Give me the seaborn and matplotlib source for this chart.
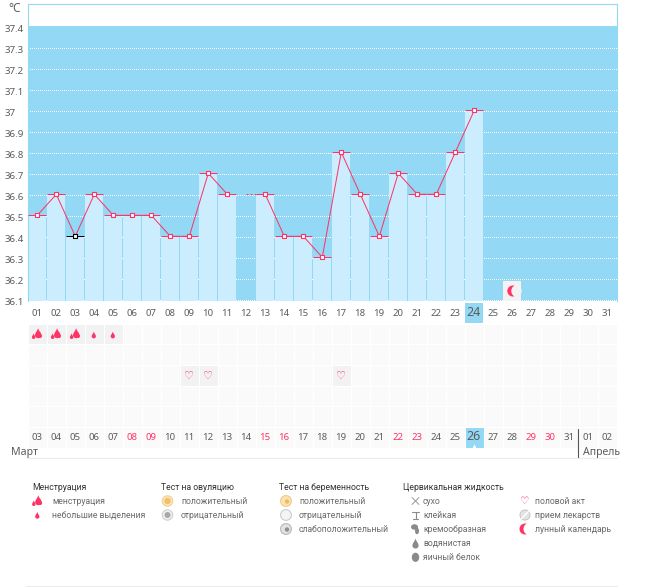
import numpy as np
import pandas as pd
import matplotlib
matplotlib.use("Agg")
import matplotlib.pyplot as plt
from matplotlib.colors import ListedColormap
from matplotlib.patches import Rectangle, Circle, PathPatch, Ellipse
from matplotlib.path import Path
import seaborn as sns

days = [f"{d:02d}" for d in range(1, 32)]
temps = [36.5, 36.6, 36.4, 36.6, 36.5, 36.5, 36.5, 36.4, 36.4, 36.7, 36.6, np.nan,
         36.6, 36.4, 36.4, 36.3, 36.8, 36.6, 36.4, 36.7, 36.6, 36.6, 36.8, 37.0] + [np.nan] * 7
y_ticks = [37.4, 37.3, 37.2, 37.1, 37.0, 36.9, 36.8, 36.7, 36.6, 36.5, 36.4, 36.3, 36.2, 36.1]
y_labels = ["37.4", "37.3", "37.2", "37.1", "37", "36.9", "36.8", "36.7", "36.6", "36.5", "36.4", "36.3", "36.2", "36.1"]
dates = ["03", "04", "05", "06", "07", "08", "09", "10", "11", "12", "13", "14", "15", "16", "17", "18",
         "19", "20", "21", "22", "23", "24", "25", "26", "27", "28", "29", "30", "31", "01", "02"]
weekend_dates = ["08", "09", "15", "16", "22", "23", "29", "30"]
heavy_days = ["01", "02", "03"]
light_days = ["04", "05"]
intercourse_days = ["09", "10", "17"]
today = "24"
black_day = "03"
moon_day = "26"

BLUE = "#93d8f4"
BAR = "#ccedfd"
PINK = "#ff3366"
GREY = "#5c5c5c"
FONT = ["Noto Sans", "DejaVu Sans"]
FS = 6.9
LEG_FONT = ["Roboto", "DejaVu Sans"]
LFS = 6.2

sns.set_theme(style="white")
plt.rcParams["font.family"] = FONT

W, H = 655, 587
L, R = 27.8, 616.8
fig = plt.figure(figsize=(W / 100, H / 100), dpi=100, facecolor="#fefffe")


def axes_px(x0, y0, x1, y1, **kw):
    return fig.add_axes([x0 / W, 1 - y1 / H, (x1 - x0) / W, (y1 - y0) / H], **kw)


def cx(i):
    return L + 19 * (i + 0.5)


df = pd.DataFrame({"day": days, "temp": temps, "pos": range(len(days))})
df["segment"] = df["temp"].isna().cumsum()

# --- main chart
ax = axes_px(L, 3.5, R, 301)
PXV = 210.0
ax.axhspan(36.0, 37.4, color=BLUE, lw=0, zorder=0)
for t in y_ticks[1:]:
    ax.plot([-0.5, 30.5], [t - 1 / PXV, t - 1 / PXV], color="white", lw=0.72, zorder=1,
            dashes=(1.0, 2.0), dash_capstyle="butt", antialiased=False)
sns.barplot(data=df, x="day", y="temp", color=BAR, saturation=1, width=18 / 19, ax=ax, zorder=2,
            order=days, linewidth=0, edgecolor="none")
sns.lineplot(data=df.dropna(subset=["temp"]), x="pos", y="temp", units="segment", estimator=None,
             color=PINK, lw=0.72, ax=ax, zorder=3)
for p, t, d in zip(df["pos"], df["temp"], df["day"]):
    if np.isfinite(t):
        ax.hlines(t, p - 9 / 19, p + 9 / 19, colors="black" if d == black_day else PINK, lw=0.72, zorder=4)
    elif d == "12":
        ax.hlines(temps[p - 1], p, p + 0.5, colors=PINK, lw=0.72, linestyles=(0, (2, 2)), zorder=4)
known = df.dropna(subset=["temp"])
sns.scatterplot(data=known[known["day"] != black_day], x="pos", y="temp", marker="s", s=9, color="white",
                edgecolor=PINK, linewidth=0.8, ax=ax, zorder=5)
sns.scatterplot(data=known[known["day"] == black_day], x="pos", y="temp", marker="s", s=9, color="white",
                edgecolor="black", linewidth=0.8, ax=ax, zorder=5)
ax.set_xlim(-0.5, 30.5)
ax.set_ylim(36.5 - 85.7 / PXV, 36.5 + 211.8 / PXV)
ax.set_xlabel("")
ax.set_ylabel("")
ax.set_xticks([])
ax.set_yticks([])
ax.set_facecolor("#fefffe")
for s in ["left", "right", "top"]:
    ax.spines[s].set_color(BLUE)
    ax.spines[s].set_linewidth(0.8)
ax.spines["bottom"].set_visible(False)

# --- symptom grid
matrix = np.zeros((6, 31))
for i, d in enumerate(days):
    if d in heavy_days or d in light_days:
        matrix[0, i] = 1
    if d in intercourse_days:
        matrix[2, i] = 1
matrix[5, dates.index("26")] = 2
ax2 = axes_px(L, 323.5, R, 447.5)
sns.heatmap(matrix, ax=ax2, cbar=False, xticklabels=False, yticklabels=False, vmin=0, vmax=2,
            cmap=ListedColormap(["#fbfafb", "#f2f2f2", BLUE]), linewidths=0.72, linecolor="#fefffe")

# --- overlay in pixels
ov = fig.add_axes([0, 0, 1, 1], zorder=10)
ov.set_xlim(0, W)
ov.set_ylim(H, 0)
ov.axis("off")


def txt(x, y, s, color=GREY, size=FS, ha="left", **kw):
    ov.text(x, y, s, color=color, fontsize=size, ha=ha, va="center", **kw)


DROP = Path([(0, -1), (0.15, -0.45), (0.62, -0.05), (0.62, 0.42), (0.62, 0.8), (0.3, 1), (0, 1),
             (-0.3, 1), (-0.62, 0.8), (-0.62, 0.42), (-0.62, -0.05), (-0.15, -0.45), (0, -1)],
            [Path.MOVETO] + [Path.CURVE4] * 12)


def drop(x, y, s, color=PINK):
    tr = matplotlib.transforms.Affine2D().scale(s).translate(x, y) + ov.transData
    ov.add_patch(PathPatch(DROP, transform=tr, fc=color, ec="none"))


def heavy(x, y):
    drop(x + 1.3, y - 0.8, 5.0)
    drop(x + 3.2, y + 0.8, 3.2)
    drop(x - 3.2, y + 2.2, 2.8)


def light(x, y):
    drop(x, y, 3.4)


def heart(x, y, size=8.0, color=PINK):
    ov.text(x, y, "\u2661", color=color, fontsize=size, ha="center", va="center", family="DejaVu Sans")


def moon(x, y, r=6, bg="#ffffff"):
    ov.add_patch(Circle((x, y), r, fc=PINK, ec="none"))
    ov.add_patch(Ellipse((x + 0.42 * r * 1.6, y), 2 * r * 0.95, 2 * r * 1.05, fc=bg, ec="none"))


# axis texts
txt(15, 8, "\u00b0C", size=8.5, ha="center")
for t, lab in zip(y_ticks, y_labels):
    txt(4.5, 300.3 - (t - 36.1) * PXV + 1.8, lab, size=7.0)
for i, d in enumerate(days):
    if d == today:
        ov.add_patch(Rectangle((cx(i) - 9, 303), 18, 20, fc=BLUE, ec="none"))
        txt(cx(i) - 1, 313, d, size=9, ha="center")
    else:
        txt(cx(i) - 0.5, 313, d, ha="center")
for i, d in enumerate(dates):
    color = PINK if d in weekend_dates else GREY
    if d == "26":
        txt(cx(i) - 1, 436, d, size=9, ha="center")
        ov.plot([cx(i)], [445.5], marker="^", ms=3, color="white", mew=0)
    else:
        txt(cx(i) - 0.5, 437.3, d, color=color, ha="center")
txt(11, 453, "\u041c\u0430\u0440\u0442", size=7.6)
txt(583, 453, "\u0410\u043f\u0440\u0435\u043b\u044c", size=7.6)
ov.plot([578.3, 578.3], [429, 458], color="#555555", lw=0.8)
ov.plot([27, 617], [458.3, 458.3], color="#ececec", lw=0.8)
ov.plot([26, 617], [586, 586], color="#ececec", lw=0.8)

# symptom marks
for d in heavy_days:
    heavy(cx(days.index(d)) - 0.5, 334)
for d in light_days:
    light(cx(days.index(d)) - 0.5, 335)
for d in intercourse_days:
    heart(cx(days.index(d)) - 0.3, 375.3)
i = days.index(moon_day)
ov.add_patch(Rectangle((cx(i) - 9, 281), 18, 20, fc="#f3f3f3", ec="none", zorder=1))
moon(cx(i) + 0.5, 291, 5.5, "#f3f3f3")

# legend
for x, s in [(32, "\u041c\u0435\u043d\u0441\u0442\u0440\u0443\u0430\u0446\u0438\u044f"),
             (161, "\u0422\u0435\u0441\u0442 \u043d\u0430 \u043e\u0432\u0443\u043b\u044f\u0446\u0438\u044e"),
             (279, "\u0422\u0435\u0441\u0442 \u043d\u0430 \u0431\u0435\u0440\u0435\u043c\u0435\u043d\u043d\u043e\u0441\u0442\u044c"),
             (403, "\u0426\u0435\u0440\u0432\u0438\u043a\u0430\u043b\u044c\u043d\u0430\u044f \u0436\u0438\u0434\u043a\u043e\u0441\u0442\u044c")]:
    txt(x, 487, s, color="#333333", size=LFS, family=LEG_FONT)

for x, y, s in [
    (52, 501, "\u043c\u0435\u043d\u0441\u0442\u0440\u0443\u0430\u0446\u0438\u044f"),
    (52, 515, "\u043d\u0435\u0431\u043e\u043b\u044c\u0448\u0438\u0435 \u0432\u044b\u0434\u0435\u043b\u0435\u043d\u0438\u044f"),
    (181, 501, "\u043f\u043e\u043b\u043e\u0436\u0438\u0442\u0435\u043b\u044c\u043d\u044b\u0439"),
    (181, 515, "\u043e\u0442\u0440\u0438\u0446\u0430\u0442\u0435\u043b\u044c\u043d\u044b\u0439"),
    (299, 501, "\u043f\u043e\u043b\u043e\u0436\u0438\u0442\u0435\u043b\u044c\u043d\u044b\u0439"),
    (299, 515, "\u043e\u0442\u0440\u0438\u0446\u0430\u0442\u0435\u043b\u044c\u043d\u044b\u0439"),
    (299, 529, "\u0441\u043b\u0430\u0431\u043e\u043f\u043e\u043b\u043e\u0436\u0438\u0442\u0435\u043b\u044c\u043d\u044b\u0439"),
    (423, 501, "\u0441\u0443\u0445\u043e"),
    (423, 515, "\u043a\u043b\u0435\u0439\u043a\u0430\u044f"),
    (423, 529, "\u043a\u0440\u0435\u043c\u043e\u043e\u0431\u0440\u0430\u0437\u043d\u0430\u044f"),
    (423, 543, "\u0432\u043e\u0434\u044f\u043d\u0438\u0441\u0442\u0430\u044f"),
    (423, 557, "\u044f\u0438\u0447\u043d\u044b\u0439 \u0431\u0435\u043b\u043e\u043a"),
    (535, 501, "\u043f\u043e\u043b\u043e\u0432\u043e\u0439 \u0430\u043a\u0442"),
    (535, 515, "\u043f\u0440\u0438\u0435\u043c \u043b\u0435\u043a\u0430\u0440\u0441\u0442\u0432"),
    (535, 529, "\u043b\u0443\u043d\u043d\u044b\u0439 \u043a\u0430\u043b\u0435\u043d\u0434\u0430\u0440\u044c"),
]:
    txt(x, y, s, color="#6a6a6a", size=LFS, family=LEG_FONT)

heavy(37, 501)
light(37.3, 515.3)
# ovulation
ov.add_patch(Circle((167.5, 501), 5.2, fc="#fbe7c4", ec="#f3cf8f", lw=0.8))
ov.add_patch(Circle((167.5, 501), 3.2, fc="#f5bf66", ec="none"))
ov.add_patch(Circle((167.5, 515), 5.2, fc="#f0f0f0", ec="#d0d0d0", lw=0.8))
ov.add_patch(Circle((167.5, 515), 3.0, fc="#a8a8a8", ec="none"))
# pregnancy
ov.add_patch(Circle((286, 501), 5.4, fc="#fbe3b5", ec="#eec98a", lw=0.8))
ov.add_patch(Circle((287, 501.5), 2.2, fc="#f1b95e", ec="none"))
ov.add_patch(Circle((286, 515), 5.4, fc="#f4f4f4", ec="#cccccc", lw=0.8))
ov.add_patch(Circle((286, 529), 5.4, fc="#e2e2e2", ec="#b8b8b8", lw=0.8))
ov.add_patch(Circle((287, 529.5), 2.2, fc="#909090", ec="none"))
# cervical fluid
ICON = "#8a8a8a"
ov.plot([412, 419], [497.5, 504.5], color=ICON, lw=0.6)
ov.plot([412, 419], [504.5, 497.5], color=ICON, lw=0.6)
ov.plot([412, 419], [511.5, 511.5], color=ICON, lw=0.8)
ov.plot([415.5, 415.5], [511.5, 518.5], color=ICON, lw=0.8)
ov.plot([413, 418], [518.5, 518.5], color=ICON, lw=0.8)
ov.add_patch(Ellipse((414.5, 527), 7, 5.5, fc=ICON, ec="none"))
ov.add_patch(Ellipse((417, 531), 4, 6.5, fc=ICON, ec="none"))
drop(415.5, 543.5, 5.0, ICON)
ov.add_patch(Ellipse((415.5, 557.3), 7.4, 9.2, fc=ICON, ec="none"))
# other
heart(524.5, 500.8, 7.5, PINK)
ov.add_patch(Circle((525, 515), 5.0, fc="#e4e4e4", ec="#c4c4c4", lw=0.7))
ov.plot([521.5, 528.5], [518.5, 511.5], color="white", lw=1.0)
moon(525, 529, 5.5, "#fefffe")

fig.savefig("out.png", dpi=100, facecolor=fig.get_facecolor())

_img = plt.imread("out.png")
_px = (_img[205, 70, :3] * 255).round()
if abs(_px[2] - 244) > 6 or abs(_px[0] - 147) > 6:
    raise RuntimeError(f"column 03 above bar is {_px}")
